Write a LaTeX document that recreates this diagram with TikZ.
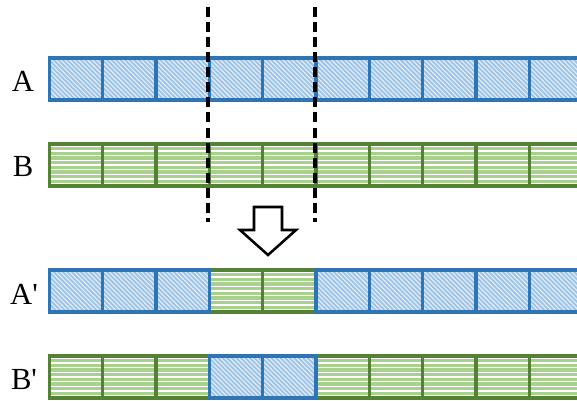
\documentclass[tikz,border=0pt]{standalone}
\usepackage{fontspec}
\setmainfont{Liberation Serif}
\definecolor{bfill}{HTML}{9DC3E6}
\definecolor{bdraw}{HTML}{2E75B6}
\definecolor{gfill}{HTML}{A9D18E}
\definecolor{gdraw}{HTML}{548235}
\begin{document}
\begin{tikzpicture}[x=0.75pt,y=-0.75pt,
  cell/.style={minimum width=40pt, minimum height=31.5pt, inner sep=0pt, outer sep=0pt, line width=2.5pt},
  bcell/.style={cell, draw=bdraw, fill=bfill,
    path picture={\foreach \k in {-10,...,12}
      \draw[white, line width=0.8pt, opacity=0.75] ([xshift=\k*3.4pt]path picture bounding box.north west) -- ++(31.5pt,-31.5pt);}},
  gcell/.style={cell, draw=gdraw, fill=gfill,
    path picture={\foreach \k in {1,...,9}
      \draw[white, line width=1.2pt] ([yshift={-(\k-0.5)*3.5pt}]path picture bounding box.north west) -- ([yshift={-(\k-0.5)*3.5pt}]path picture bounding box.north east);}},
  lbl/.style={font=\fontsize{23}{27}\selectfont, anchor=base, inner sep=0pt},
  cutline/.style={line width=2.4pt, dash pattern=on 7.5pt off 3.8pt},
  bigarrow/.style={line width=1.9pt, fill=white, line join=miter}]
\clip (0,0) rectangle (577,400);
% row A
\foreach \i in {0,...,9} \node[bcell] (a\i) at ({76.15+53.3*\i},79) {};
% row B
\foreach \i in {0,...,9} \node[gcell] (b\i) at ({76.15+53.3*\i},165) {};
% row A'
\foreach \i in {3,4} \node[gcell] (ap\i) at ({76.15+53.3*\i},291) {};
\foreach \i in {0,1,2,5,6,7,8,9} \node[bcell] (ap\i) at ({76.15+53.3*\i},291) {};
% row B'
\foreach \i in {0,1,2,5,6,7,8,9} \node[gcell] (bp\i) at ({76.15+53.3*\i},377) {};
\foreach \i in {3,4} \node[bcell] (bp\i) at ({76.15+53.3*\i},377) {};
% labels
\node[lbl] (la) at (23,91.7) {A};
\node[lbl] (lb) at (23,176.7) {B};
\node[lbl] (lap) at (24,304) {A\textquotesingle};
\node[lbl] (lbp) at (24,389) {B\textquotesingle};
% cut lines
\coordinate (c1t) at (208,7);
\coordinate (c1b) at (208,222);
\coordinate (c2t) at (315,7);
\coordinate (c2b) at (315,222);
\draw[cutline] (c1t) -- (c1b);
\draw[cutline] (c2t) -- (c2b);
% block arrow
\draw[bigarrow] (254,207) -- (282,207) -- (282,230) -- (296,230) -- (268,255) -- (240,230) -- (254,230) -- cycle;
\end{tikzpicture}
\end{document}
